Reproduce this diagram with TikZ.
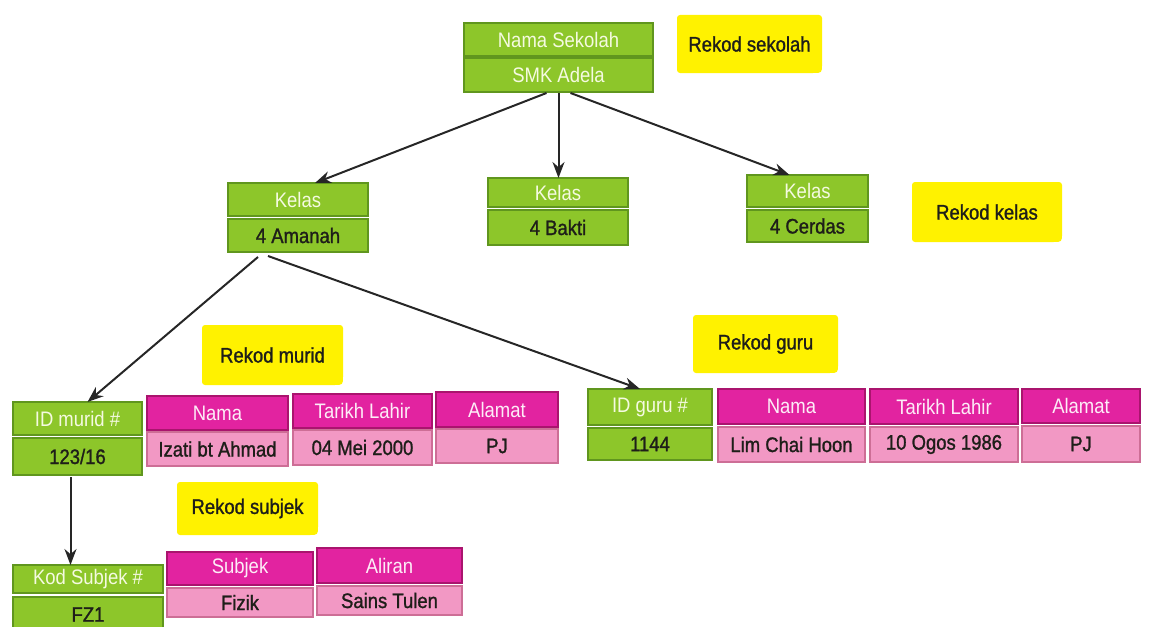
\documentclass[tikz,border=0pt]{standalone}
\usepackage{fontspec}
\setmainfont{Liberation Sans}
\newfontfamily\cellfont[FakeStretch=0.88]{Liberation Sans}
\newfontfamily\darkfont[FakeStretch=0.88, FakeBold=1.2]{Liberation Sans}
\usetikzlibrary{calc,arrows.meta,backgrounds}

\definecolor{lime}{RGB}{141,198,42}
\definecolor{limeedge}{RGB}{96,150,30}
\definecolor{magent}{RGB}{226,35,160}
\definecolor{magentedge}{RGB}{170,20,110}
\definecolor{pinkcell}{RGB}{242,152,196}
\definecolor{pinkedge}{RGB}{205,110,150}
\definecolor{noteyellow}{RGB}{255,242,0}
\definecolor{lighttext}{RGB}{245,250,225}
\definecolor{darktext}{RGB}{30,30,25}

\tikzset{
  cell/.style={inner sep=0pt, outer sep=0pt, line width=1.2pt},
  ghead/.style={cell, fill=lime, draw=limeedge, text=lighttext,
    font=\cellfont\fontsize{21}{21}\selectfont},
  gdata/.style={cell, fill=lime, draw=limeedge, text=darktext,
    font=\darkfont\fontsize{21}{21}\selectfont},
  mhead/.style={cell, fill=magent, draw=magentedge, text=white!92!magent,
    font=\cellfont\fontsize{21}{21}\selectfont},
  pdata/.style={cell, fill=pinkcell, draw=pinkedge, text=darktext,
    font=\darkfont\fontsize{21}{21}\selectfont},
  note/.style={inner sep=0pt, outer sep=0pt, text=darktext,
    font=\darkfont\fontsize{21}{21}\selectfont},
  link/.style={-{Stealth[length=16pt,width=12pt]}, line width=2pt, black!85},
}

% cell given by its corners: name, style, x1, y1, x2, y2, text
\newcommand\mkcell[7]{%
  \node[#2, minimum width={(#5-#3)*1pt}, minimum height={(#6-#4)*1pt}]
    (#1) at ({(#3+#5)/2},{(#4+#6)/2}) {#7};}

% yellow label with a rounded lower right corner
\newcommand\mknote[6]{%
  \node[note, minimum width={(#5-#3)*1pt}, minimum height={(#6-#4)*1pt}]
    (#1) at ({(#3+#5)/2},{(#4+#6)/2}) {#2};
  \begin{pgfonlayer}{background}
    \fill[noteyellow, rounded corners=3pt]
      (#1.south west) -- (#1.north west) -- (#1.north east)
      -- ($(#1.south east)+(0pt,12pt)$)
      .. controls (#1.south east) .. ($(#1.south east)+(-12pt,0pt)$)
      -- cycle;
  \end{pgfonlayer}}

\begin{document}
\begin{tikzpicture}[x=1pt, y=-1pt]
  \useasboundingbox (0,0) rectangle (1150,626);

  % school record
  \mkcell{shead}{ghead}{464}{23}{653}{56}{Nama Sekolah}
  \mkcell{sdata}{ghead}{464}{58}{653}{92}{SMK Adela}
  \mknote{nsekolah}{Rekod sekolah}{677}{15}{822}{73}

  % class records
  \mkcell{kAhead}{ghead}{228}{183}{368}{216}{Kelas}
  \mkcell{kAdata}{gdata}{228}{219}{368}{252}{4 Amanah}
  \mkcell{kBhead}{ghead}{488}{178}{628}{207}{Kelas}
  \mkcell{kBdata}{gdata}{488}{210}{628}{245}{4 Bakti}
  \mkcell{kChead}{ghead}{747}{175}{868}{207}{Kelas}
  \mkcell{kCdata}{gdata}{747}{210}{868}{242}{4 Cerdas}
  \mknote{nkelas}{Rekod kelas}{912}{182}{1062}{242}

  % student record
  \mknote{nmurid}{Rekod murid}{202}{325}{343}{385}
  \mkcell{mIDh}{ghead}{13}{402}{142}{435}{ID murid \#}
  \mkcell{mIDd}{gdata}{13}{438}{142}{475}{123/16}
  \mkcell{mNh}{mhead}{147}{396}{288}{430}{Nama}
  \mkcell{mNd}{pdata}{147}{432}{288}{466}{Izati bt Ahmad}
  \mkcell{mTh}{mhead}{293}{394}{432}{428}{Tarikh Lahir}
  \mkcell{mTd}{pdata}{293}{430}{432}{465}{04 Mei 2000}
  \mkcell{mAh}{mhead}{436}{392}{558}{427}{Alamat}
  \mkcell{mAd}{pdata}{436}{429}{558}{463}{PJ}

  % teacher record
  \mknote{nguru}{Rekod guru}{693}{315}{838}{373}
  \mkcell{gIDh}{ghead}{588}{389}{712}{425}{ID guru \#}
  \mkcell{gIDd}{gdata}{588}{428}{712}{460}{1144}
  \mkcell{gNh}{mhead}{718}{389}{865}{424}{Nama}
  \mkcell{gNd}{pdata}{718}{427}{865}{462}{Lim Chai Hoon}
  \mkcell{gTh}{mhead}{870}{389}{1018}{424}{Tarikh Lahir}
  \mkcell{gTd}{pdata}{870}{427}{1018}{462}{10 Ogos 1986}
  \mkcell{gAh}{mhead}{1022}{389}{1140}{423}{Alamat}
  \mkcell{gAd}{pdata}{1022}{426}{1140}{462}{PJ}

  % subject record
  \mknote{nsubjek}{Rekod subjek}{177}{482}{318}{535}
  \mkcell{sKh}{ghead}{13}{565}{163}{593}{Kod Subjek \#}
  \mkcell{sKd}{gdata}{13}{597}{163}{632}{FZ1}
  \mkcell{sSh}{mhead}{167}{552}{313}{585}{Subjek}
  \mkcell{sSd}{pdata}{167}{588}{313}{617}{Fizik}
  \mkcell{sAh}{mhead}{317}{548}{462}{583}{Aliran}
  \mkcell{sAd}{pdata}{317}{586}{462}{615}{Sains Tulen}

  % hierarchy links
  \draw[link] ([xshift=-12pt,yshift=-1pt]sdata.south) -- ([xshift=17pt]kAhead.north);
  \draw[link] ([yshift=-1pt]sdata.south) -- (sdata.south |- kBhead.north);
  \draw[link] ([xshift=12pt,yshift=-1pt]sdata.south) -- ([xshift=-18pt]kChead.north);
  \draw[link] ([xshift=-40pt,yshift=-5pt]kAdata.south) -- ([xshift=10pt]mIDh.north);
  \draw[link] ([xshift=-30pt,yshift=-4pt]kAdata.south) -- ([xshift=-10pt]gIDh.north);
  \draw[link] ([xshift=-7pt,yshift=-2pt]mIDd.south) -- ([xshift=-7pt]mIDd.south |- sKh.north);
\end{tikzpicture}
\end{document}
